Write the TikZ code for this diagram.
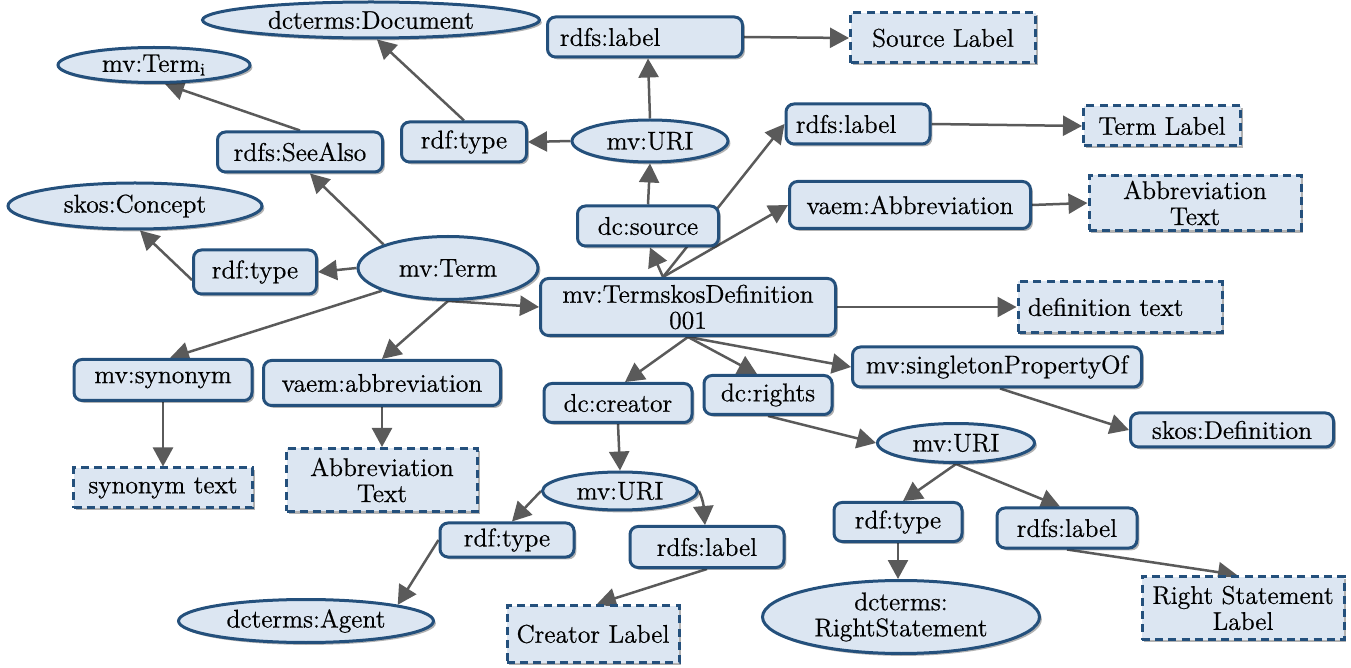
\documentclass[tikz,border=0pt]{standalone}
\usepackage{fontspec}
\newfontfamily\nodefont{lmroman12-regular.otf}[FakeBold=0.6]
\usetikzlibrary{shapes.geometric,arrows.meta,calc,shadows,backgrounds}
\definecolor{nfill}{RGB}{220,230,242}
\definecolor{nline}{RGB}{36,80,124}
\definecolor{aline}{RGB}{90,90,90}
\tikzset{
  base/.style={fill=nfill,draw=nline,line width=1.5pt,inner sep=0pt,align=center,
    font=\nodefont\fontsize{12.8}{14}\selectfont,
    drop shadow={shadow xshift=1.2pt,shadow yshift=-1.2pt,opacity=0.3,fill=black}},
  rbox/.style={base,rectangle,rounded corners=4pt},
  dbox/.style={base,rectangle,dashed,dash pattern=on 4pt off 2.6pt},
  ell/.style={base,ellipse},
  arr/.style={draw=aline,line width=1.25pt,-{Triangle[length=9.5pt,width=10pt]}}
}
\begin{document}
\begin{tikzpicture}[x=0.5pt,y=-0.5pt]
\useasboundingbox (0,0) rectangle (1351,668);
% nodes
\node[ell,minimum width=168.5pt,minimum height=18pt] (doc) at (371,20) {dcterms:Document};
\node[ell,minimum width=96pt,minimum height=17.5pt] (termi) at (154,65) {mv:Term\textsubscript{i}};
\node[rbox,minimum width=82.5pt,minimum height=20pt] (seealso) at (300,152) {rdfs:SeeAlso};
\node[ell,minimum width=127pt,minimum height=23pt] (skos) at (135,206) {skos:Concept};
\node[rbox,minimum width=61.5pt,minimum height=22pt] (rtL) at (255,272) {rdf:type};
\node[ell,minimum width=90pt,minimum height=31.5pt] (term) at (448,268) {mv:Term};
\node[rbox,minimum width=62.5pt,minimum height=20pt] (rtT) at (464,142) {rdf:type};
\node[ell,minimum width=78pt,minimum height=21pt] (uriT) at (650,141) {mv:URI};
\node[rbox,minimum width=97.5pt,minimum height=20pt,text width=85pt,align=left] (lblT) at (645,37) {rdfs:label};
\node[dbox,minimum width=92.5pt,minimum height=25pt] (srcL) at (943,38) {Source Label};
\node[rbox,minimum width=70.5pt,minimum height=20pt] (dcsrc) at (648,226) {dc:source};
\node[rbox,minimum width=72pt,minimum height=20pt,text width=62pt,align=left] (lblM) at (858,124) {rdfs:label};
\node[dbox,minimum width=78.5pt,minimum height=20pt] (termL) at (1162,126) {Term Label};
\node[rbox,minimum width=120.5pt,minimum height=23.5pt] (vaemA) at (910,205) {vaem:Abbreviation};
\node[dbox,minimum width=106pt,minimum height=27.5pt] (abbrR) at (1195,203) {Abbreviation\\[-1pt]Text};
\node[rbox,minimum width=147.5pt,minimum height=28.5pt] (tsd) at (688,307) {mv:TermskosDefinition\\[-1pt]001};
\node[dbox,minimum width=102pt,minimum height=25.5pt,text width=92pt,align=left] (deft) at (1120,307) {definition text};
\node[rbox,minimum width=89pt,minimum height=20.5pt] (syn) at (163,380) {mv:synonym};
\node[rbox,minimum width=118.5pt,minimum height=22.5pt] (vaemB) at (382,383) {vaem:abbreviation};
\node[dbox,minimum width=89.5pt,minimum height=20pt] (synt) at (163,488) {synonym text};
\node[dbox,minimum width=95.5pt,minimum height=31.5pt] (abbrL) at (382,480) {Abbreviation\\[-1pt]Text};
\node[rbox,minimum width=74pt,minimum height=19.5pt] (dccr) at (618,403) {dc:creator};
\node[rbox,minimum width=64pt,minimum height=19.5pt] (rights) at (768,395) {dc:rights};
\node[rbox,minimum width=144.5pt,minimum height=20pt] (single) at (997,367) {mv:singletonPropertyOf};
\node[rbox,minimum width=101.5pt,minimum height=17pt] (skosdef) at (1232,430) {skos:Definition};
\node[ell,minimum width=78.5pt,minimum height=19.5pt] (uriR) at (956,443) {mv:URI};
\node[ell,minimum width=77.5pt,minimum height=19pt] (uriB) at (620,491) {mv:URI};
\node[rbox,minimum width=67pt,minimum height=17pt] (rtB) at (507,540) {rdf:type};
\node[rbox,minimum width=77pt,minimum height=20.5pt] (lblB) at (707,547) {rdfs:label};
\node[ell,minimum width=127.5pt,minimum height=21.5pt] (agent) at (306,621) {dcterms:Agent};
\node[dbox,minimum width=86pt,minimum height=28.5pt] (crL) at (593,634) {Creator Label};
\node[rbox,minimum width=64pt,minimum height=19.5pt] (rtBR) at (898,522) {rdf:type};
\node[rbox,minimum width=70pt,minimum height=20pt] (lblBR) at (1067,528) {rdfs:label};
\node[ell,minimum width=138.5pt,minimum height=36.5pt] (rs) at (901,617) {dcterms:\\[-1pt]RightStatement};
\node[dbox,minimum width=101pt,minimum height=31.5pt] (rsl) at (1243,608) {Right Statement\\[-1pt]Label};
\coordinate (F) at ($(tsd.north)+(-25,0)$);
% edges
\begin{scope}[on background layer]
\draw[arr] (term.160) -- ($(seealso.south)+(10,0)$);
\draw[arr] (seealso.north) -- ($(termi.south)+(11,0)$);
\draw[arr] (term.west) -- (rtL.east);
\draw[arr] ($(rtL.west)+(0,8)$) -- ($(skos.south)+(5,0)$);
\draw[arr] (term.south) -- (tsd.west);
\draw[arr] (term.199) -- ($(syn.north)+(7,0)$);
\draw[arr] (term.south) -- (vaemB.north);
\draw[arr] (syn.south) -- (synt.north);
\draw[arr] (vaemB.south) -- (abbrL.north);
\draw[arr] (rtT.north) -- ($(doc.south)+(6,0)$);
\draw[arr] (uriT.west) -- (rtT.east);
\draw[arr] (uriT.north) -- ($(lblT.south)+(3,0)$);
\draw[arr] (lblT.east) -- (srcL.west);
\draw[arr] (dcsrc.north) -- (uriT.south);
\draw[arr] (F) -- ($(dcsrc.south)+(2,0)$);
\draw[arr] (F) -- (lblM.west);
\draw[arr] (F) -- (vaemA.west);
\draw[arr] (lblM.east) -- (termL.west);
\draw[arr] (vaemA.east) -- (abbrR.west);
\draw[arr] (tsd.east) -- (deft.west);
\draw[arr] (tsd.south) -- ($(dccr.north)+(7,0)$);
\draw[arr] (tsd.south) -- ($(rights.north)+(-11,0)$);
\draw[arr] (tsd.south) -- (single.west);
\draw[arr] ($(single.south)+(3,0)$) -- (skosdef.west);
\draw[arr] (rights.south) -- (uriR.west);
\draw[arr] (dccr.south) -- (uriB.north);
\draw[arr] (uriB.west) -- ($(rtB.north)+(5,0)$);
\draw[arr] (uriB.east) to[out=-65,in=95] ($(lblB.north)+(-2,0)$);
\draw[arr] (rtB.west) -- (agent.10);
\draw[arr] (lblB.south) -- ($(crL.north)+(4,0)$);
\draw[arr] (uriR.south) -- ($(rtBR.north)+(5,0)$);
\draw[arr] (uriR.south) -- ($(lblBR.north)+(-7,0)$);
\draw[arr] (rtBR.south) -- ($(rs.north)+(-3,0)$);
\draw[arr] (lblBR.south) -- ($(rsl.north)+(-6,0)$);
\end{scope}
\end{tikzpicture}
\end{document}
